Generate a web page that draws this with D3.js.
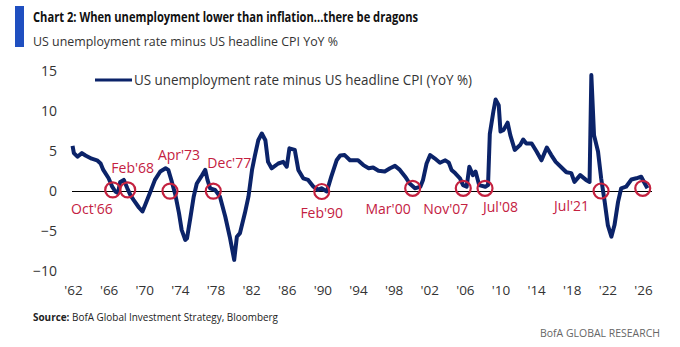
<!DOCTYPE html>
<html>
<head>
<meta charset="utf-8">
<script src="https://cdn.jsdelivr.net/npm/d3@7"></script>
<style>
  body { margin: 0; background: #fff; }
  svg text { font-family: "Open Sans", "Noto Sans", sans-serif; }
</style>
</head>
<body>
<div id="chart"></div>
<script>
// decimal year of each reading
const years = [
  1961.95, 1962.1, 1962.5, 1963.0, 1963.4, 1964.1, 1964.7, 1965.1, 1965.4, 1966.0,
  1966.4, 1966.75, 1967.05, 1967.3, 1967.7, 1968.1, 1968.45, 1968.8, 1969.4, 1969.8,
  1970.1, 1970.7, 1971.2, 1971.8, 1972.4, 1972.7, 1973.1, 1973.5, 1973.9, 1974.2,
  1974.6, 1974.8, 1975.2, 1975.55, 1975.9, 1976.5, 1976.85, 1977.1, 1977.4, 1977.95,
  1978.5, 1979.1, 1979.6, 1980.1, 1980.4, 1980.75, 1981.3, 1981.7, 1982.1, 1982.4,
  1982.8, 1983.2, 1983.6, 1983.9, 1984.3, 1985.05, 1985.6, 1986.0, 1986.3, 1986.9,
  1987.3, 1987.85, 1988.4, 1989.0, 1989.5, 1989.9, 1990.5, 1991.0, 1991.6, 1992.0,
  1992.5, 1993.1, 1994.0, 1994.6, 1995.2, 1995.7, 1996.3, 1997.0, 1997.6, 1998.15,
  1998.7, 1999.3, 1999.8, 2000.4, 2001.0, 2001.3, 2001.7, 2002.1, 2002.6, 2003.2,
  2003.8, 2004.2, 2004.5, 2004.9, 2005.45, 2005.8, 2006.2, 2006.5, 2006.9, 2007.2,
  2007.6, 2008.3, 2008.6, 2008.8, 2009.2, 2009.45, 2009.8, 2010.0, 2010.35, 2010.8,
  2011.1, 2011.6, 2012.2, 2012.55, 2012.9, 2013.5, 2014.05, 2014.6, 2015.2, 2015.7,
  2016.2, 2016.85, 2017.4, 2017.95, 2018.3, 2018.95, 2019.6, 2020.0, 2020.2, 2020.5,
  2020.95, 2021.3, 2021.7, 2022.05, 2022.45, 2022.8, 2023.2, 2023.55, 2024.1, 2024.7,
  2025.25, 2025.8, 2026.2, 2026.5
];
// US unemployment rate minus US headline CPI YoY, %
const values = [
  5.7, 4.8, 4.35, 4.8, 4.5, 4.1, 3.9, 3.5, 2.7, 1.65,
  0.6, 0.0, -0.2, 1.2, 1.45, 0.4, -0.45, -1.05, -2.0, -2.5,
  -1.7, 0.0, 1.45, 2.5, 2.9, 2.7, 1.2, -0.45, -2.7, -4.8,
  -6.05, -5.85, -3.15, -0.65, 1.0, 2.05, 2.7, 1.45, 0.4, 0.2,
  -0.65, -3.15, -5.65, -8.55, -5.65, -5.2, -2.7, -0.65, 2.7, 4.35,
  6.4, 7.25, 6.4, 3.7, 2.9, 3.5, 3.7, 3.1, 5.4, 5.2,
  2.7, 1.65, 1.45, 0.6, 0.2, 0.4, 0.0, 1.85, 3.9, 4.5,
  4.55, 3.9, 3.9, 3.3, 2.9, 3.0, 2.6, 2.5, 2.9, 3.2,
  2.7, 1.85, 1.0, 0.4, 0.6, 1.45, 3.5, 4.55, 4.15, 3.6,
  3.9, 3.6, 2.7, 2.3, 1.65, 0.8, 0.6, 3.1, 2.05, 2.5,
  0.8, 0.6, 0.8, 7.2, 10.0, 11.5, 10.8, 7.5, 7.7, 8.6,
  7.05, 5.2, 5.8, 6.5, 6.0, 6.0, 5.0, 3.9, 5.5, 4.55,
  3.7, 3.0, 2.4, 2.3, 1.2, 2.05, 1.45, 1.2, 14.55, 7.05,
  5.0, 1.65, -1.3, -4.2, -5.65, -4.2, -1.3, 0.4, 0.6, 1.5,
  1.65, 1.85, 1.0, 0.4
];

// "dragons": where the spread dips to zero
const markDates = [1966.46, 1968.14, 1972.89, 1977.75, 1989.93, 2000.14, 2005.82, 2008.26, 2021.29, 2025.97];
const markValues = [0.2, 0.2, 0.05, 0.05, 0.0, 0.4, 0.4, 0.4, 0.06, 0.4];
const markLabels = ["Oct'66", "Feb'68", "Apr'73", "Dec'77", "Feb'90", "Mar'00", "Nov'07", "Jul'08", "Jul'21", ""];
// label placement relative to its circle (px): anchor, dx, dy
const labelPlace = [
  ["end", 0, 24], ["middle", 5, -17], ["middle", 9, -31], ["middle", 16, -23],
  ["middle", 0, 26], ["end", -2, 26], ["end", 5, 26], ["start", -2, 24], ["end", -12, 20], ["middle", 0, 0]
];

const yTicks = [-10, -5, 0, 5, 10, 15];
const xTicks = d3.range(1962, 2027, 4);

const W = 680, H = 347;
const navy = "#0b2369", red = "#c4213f";

const svg = d3.select("#chart").append("svg")
  .attr("width", W).attr("height", H);

const x = d3.scaleLinear().domain([1962, 2026]).range([73, 643]);
const y = d3.scaleLinear().domain([-10, 15]).range([271.5, 71.5]);

// header
svg.append("rect").attr("x", 15).attr("y", 6).attr("width", 9).attr("height", 41).attr("fill", "#1f4fc0");
svg.append("text").attr("x", 33).attr("y", 21.5)
  .attr("font-size", 13.5).attr("font-weight", "bold").attr("fill", "#111")
  .attr("textLength", 385).attr("lengthAdjust", "spacingAndGlyphs")
  .text("Chart 2: When unemployment lower than inflation...there be dragons");
svg.append("text").attr("x", 33).attr("y", 45.5)
  .attr("font-size", 13.5).attr("fill", "#333")
  .attr("textLength", 305).attr("lengthAdjust", "spacingAndGlyphs")
  .text("US unemployment rate minus US headline CPI YoY %");

// y axis
const yAxis = svg.append("g")
  .attr("transform", "translate(60,0)")
  .call(d3.axisLeft(y).tickValues(yTicks).tickSize(0).tickPadding(3).tickFormat(d3.format("d")));
yAxis.select(".domain").remove();
yAxis.selectAll("text").attr("font-size", 14).attr("fill", "#333")
  .style("font-family", "'Open Sans', sans-serif");

// x axis
const xAxis = svg.append("g")
  .attr("transform", "translate(0,281)")
  .call(d3.axisBottom(x).tickValues(xTicks).tickSize(0).tickPadding(4)
    .tickFormat(d => "'" + String(d).slice(2)));
xAxis.select(".domain").remove();
xAxis.selectAll("text").attr("font-size", 13.5).attr("fill", "#333")
  .style("font-family", "'Open Sans', sans-serif");

// zero line
svg.append("line")
  .attr("x1", 72).attr("x2", 652)
  .attr("y1", y(0)).attr("y2", y(0))
  .attr("stroke", "#000").attr("stroke-width", 1.2);

// series
const series = years.map((yr, i) => ({ yr: yr, v: values[i] }));
svg.append("path")
  .datum(series)
  .attr("fill", "none")
  .attr("stroke", navy)
  .attr("stroke-width", 4)
  .attr("stroke-linejoin", "round")
  .attr("d", d3.line().x(d => x(d.yr)).y(d => y(d.v)));

// circles + labels
const marks = markDates.map((d, i) => ({ yr: d, v: markValues[i], label: markLabels[i], place: labelPlace[i] }));
svg.selectAll("circle.mark").data(marks).enter().append("circle")
  .attr("class", "mark")
  .attr("cx", d => x(d.yr)).attr("cy", d => y(d.v)).attr("r", 7.5)
  .attr("fill", "none").attr("stroke", red).attr("stroke-width", 2.2);
svg.selectAll("text.mark").data(marks.filter(d => d.label)).enter().append("text")
  .attr("class", "mark")
  .attr("x", d => x(d.yr) + d.place[1])
  .attr("y", d => y(d.v) + d.place[2])
  .attr("text-anchor", d => d.place[0])
  .attr("font-size", 14).attr("fill", red)
  .text(d => d.label);

// legend
svg.append("line").attr("x1", 95).attr("x2", 132).attr("y1", 80).attr("y2", 80)
  .attr("stroke", navy).attr("stroke-width", 3);
svg.append("text").attr("x", 134).attr("y", 85)
  .attr("font-size", 14).attr("fill", "#333")
  .attr("textLength", 338).attr("lengthAdjust", "spacingAndGlyphs")
  .text("US unemployment rate minus US headline CPI (YoY %)");

// footer
const src = svg.append("text").attr("x", 33).attr("y", 321)
  .attr("font-size", 10.5).attr("fill", "#222")
  .attr("textLength", 245).attr("lengthAdjust", "spacingAndGlyphs");
src.append("tspan").attr("font-weight", "bold").text("Source:");
src.append("tspan").text(" BofA Global Investment Strategy, Bloomberg");
svg.append("text").attr("x", 660).attr("y", 337)
  .attr("text-anchor", "end")
  .attr("font-size", 10.5).attr("fill", "#666")
  .attr("textLength", 120).attr("lengthAdjust", "spacingAndGlyphs")
  .text("BofA GLOBAL RESEARCH");
</script>
</body>
</html>
